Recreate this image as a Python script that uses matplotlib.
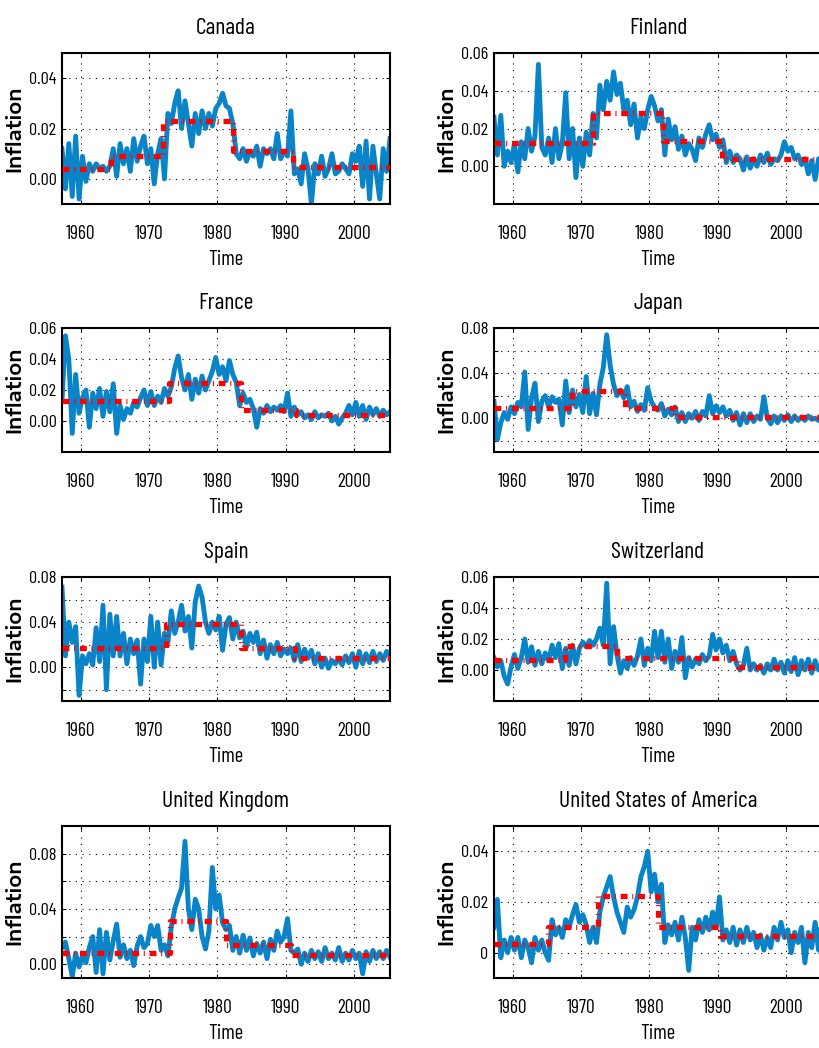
import numpy as np
import matplotlib
matplotlib.use("Agg")
import matplotlib.pyplot as plt
from matplotlib import font_manager

# semi-annual inflation, first reading at 1957.25
canada = [0.012, -0.004, 0.014, -0.007, 0.017, -0.008, 0.009, -0.001, 0.006, 0.003,
          0.006, 0.004, 0.005, 0.003, 0.005, 0.012, 0.001, 0.014, 0.006, 0.012,
          0.003, 0.016, 0.007, 0.013, 0.017, 0.006, 0.012, -0.002, 0.010, 0.016,
          0.000, 0.026, 0.022, 0.030, 0.035, 0.020, 0.031, 0.022, 0.013, 0.026,
          0.018, 0.027, 0.020, 0.026, 0.021, 0.028, 0.030, 0.034, 0.029, 0.028,
          0.022, 0.010, 0.008, 0.012, 0.007, 0.011, 0.009, 0.013, 0.005, 0.012,
          0.010, 0.012, 0.008, 0.018, 0.008, 0.011, 0.009, 0.027, 0.002, 0.004,
          -0.002, 0.010, 0.004, -0.010, 0.006, 0.002, 0.009, 0.001, 0.004, 0.010,
          0.002, 0.003, 0.006, 0.004, 0.002, 0.010, 0.007, 0.013, -0.003, 0.015,
          -0.008, 0.013, 0.002, -0.008, 0.012, 0.003, 0.016]
finland = [0.026, 0.006, 0.027, 0.000, 0.008, 0.002, 0.012, -0.003, 0.013, 0.004,
           0.020, 0.008, 0.016, 0.054, 0.010, 0.006, 0.015, 0.002, 0.020, 0.004,
           0.012, 0.039, 0.004, 0.020, -0.006, 0.015, 0.000, 0.018, 0.006, 0.028,
           0.015, 0.043, 0.030, 0.045, 0.035, 0.050, 0.038, 0.044, 0.030, 0.035,
           0.022, 0.033, 0.015, 0.026, 0.020, 0.030, 0.037, 0.032, 0.024, 0.030,
           0.006, 0.025, 0.014, 0.021, 0.009, 0.016, 0.006, 0.012, 0.009, 0.003,
           0.015, 0.010, 0.017, 0.022, 0.014, 0.017, 0.010, 0.014, 0.002, 0.008,
           0.002, 0.006, 0.004, -0.002, 0.005, -0.001, 0.004, 0.000, 0.006, 0.002,
           0.007, 0.001, 0.004, 0.003, 0.006, 0.013, 0.008, 0.010, 0.004, 0.006,
           0.001, 0.004, -0.004, 0.003, -0.007, 0.004, -0.004]
france = [0.013, 0.055, 0.040, -0.008, 0.030, 0.005, 0.015, 0.020, -0.004, 0.018,
          0.008, 0.021, 0.003, 0.019, 0.006, 0.024, -0.008, 0.010, 0.001, 0.008,
          0.005, 0.012, 0.009, 0.015, 0.020, 0.010, 0.019, 0.010, 0.016, 0.012,
          0.021, 0.016, 0.022, 0.034, 0.042, 0.028, 0.020, 0.030, 0.014, 0.027,
          0.018, 0.029, 0.020, 0.026, 0.032, 0.041, 0.030, 0.035, 0.026, 0.039,
          0.030, 0.025, 0.010, 0.018, 0.012, 0.014, 0.008, -0.004, 0.008, 0.005,
          0.010, 0.006, 0.009, 0.007, 0.010, 0.006, 0.018, 0.003, 0.009, 0.004,
          0.006, 0.002, 0.004, 0.001, 0.006, 0.002, 0.004, 0.003, 0.005, 0.000,
          0.003, -0.002, 0.002, 0.005, 0.010, 0.004, 0.012, 0.003, 0.010, 0.001,
          0.009, 0.004, 0.008, 0.003, 0.007, 0.004, 0.006]
japan = [0.015, -0.019, -0.004, 0.005, -0.001, 0.010, 0.004, 0.014, 0.010, 0.041,
         -0.010, 0.018, 0.031, -0.003, 0.015, 0.020, 0.010, 0.019, 0.014, 0.017,
         -0.006, 0.033, 0.005, 0.025, 0.010, 0.021, 0.005, 0.037, 0.004, 0.022,
         0.003, 0.030, 0.045, 0.074, 0.047, 0.030, 0.020, 0.025, 0.018, 0.028,
         0.010, 0.015, 0.006, 0.012, 0.007, 0.027, 0.015, 0.010, 0.007, 0.013,
         0.002, 0.008, 0.003, 0.010, -0.003, 0.005, -0.003, 0.004, 0.000, 0.006,
         -0.002, 0.006, 0.002, 0.020, 0.004, 0.011, 0.005, 0.010, 0.002, 0.007,
         -0.002, 0.005, -0.006, 0.004, -0.004, 0.004, -0.003, 0.002, -0.001, 0.019,
         0.000, -0.005, 0.002, -0.004, 0.002, -0.002, 0.003, -0.003, 0.002, -0.002,
         0.001, -0.002, 0.002, -0.001, 0.000, -0.002, -0.003]
spain = [0.071, 0.010, 0.040, 0.022, 0.036, -0.025, 0.010, 0.003, 0.012, 0.002,
         0.035, 0.005, 0.055, -0.020, 0.047, 0.010, 0.045, 0.010, 0.030, 0.003,
         0.025, 0.012, 0.024, -0.015, 0.025, 0.005, 0.045, 0.000, 0.040, 0.002,
         0.030, 0.022, 0.050, 0.030, 0.040, 0.055, 0.032, 0.045, 0.017, 0.058,
         0.072, 0.062, 0.040, 0.030, 0.040, 0.033, 0.045, 0.015, 0.038, 0.044,
         0.025, 0.040, 0.026, 0.032, 0.018, 0.030, 0.022, 0.031, 0.012, 0.024,
         0.008, 0.020, 0.012, 0.022, 0.010, 0.016, 0.012, 0.017, 0.006, 0.020,
         0.005, 0.016, 0.008, 0.015, 0.003, 0.012, 0.000, 0.008, -0.001, 0.006,
         0.003, 0.008, 0.002, 0.010, 0.004, 0.012, 0.000, 0.014, 0.003, 0.012,
         0.004, 0.014, 0.005, 0.012, 0.006, 0.014, 0.010]
switzerland = [0.008, 0.002, 0.006, -0.004, -0.009, 0.002, 0.010, 0.001, 0.008, 0.020,
               0.005, 0.015, 0.003, 0.012, 0.004, 0.011, 0.006, 0.016, 0.008, 0.017,
               0.001, 0.014, 0.003, 0.016, 0.004, 0.014, 0.018, 0.015, 0.019, 0.016,
               0.020, 0.027, 0.016, 0.056, 0.004, 0.028, 0.010, -0.002, 0.006, 0.001,
               0.008, 0.003, 0.009, 0.020, 0.003, 0.014, 0.006, 0.025, 0.008, 0.025,
               0.005, 0.020, 0.001, 0.012, 0.005, 0.021, -0.005, 0.008, 0.002, 0.007,
               0.004, 0.010, 0.006, 0.009, 0.023, 0.013, 0.020, 0.011, 0.016, 0.006,
               0.012, 0.004, 0.000, 0.003, 0.014, 0.000, 0.004, 0.000, 0.003, -0.002,
               0.004, 0.000, 0.007, 0.000, 0.005, -0.002, 0.006, -0.001, 0.008, -0.003,
               0.006, 0.000, 0.007, -0.002, 0.006, 0.000, 0.004]
uk = [0.012, 0.016, 0.004, -0.009, 0.008, -0.002, 0.006, 0.001, 0.012, 0.020,
      -0.006, 0.025, -0.007, 0.023, 0.003, 0.017, 0.029, 0.005, 0.014, 0.004,
      0.010, -0.001, 0.013, 0.020, 0.012, 0.015, 0.028, 0.020, 0.028, 0.010,
      0.014, 0.006, 0.027, 0.040, 0.048, 0.055, 0.089, 0.040, 0.025, 0.047,
      0.040, 0.020, 0.011, 0.024, 0.070, 0.040, 0.050, 0.030, 0.025, 0.028,
      0.010, 0.020, 0.008, 0.021, 0.010, 0.019, 0.006, 0.015, 0.008, 0.016,
      0.004, 0.018, 0.010, 0.024, 0.016, 0.020, 0.033, 0.010, 0.008, 0.011,
      0.000, 0.008, 0.002, 0.010, 0.004, 0.009, 0.002, 0.012, 0.004, 0.008,
      0.003, 0.012, 0.002, 0.008, 0.003, 0.010, 0.004, 0.008, -0.007, 0.009,
      0.002, 0.010, 0.004, 0.009, 0.004, 0.010, 0.005]
usa = [0.010, 0.021, -0.002, 0.005, 0.000, 0.006, 0.001, 0.006, -0.002, 0.005,
       0.002, -0.004, 0.006, 0.001, 0.005, 0.000, -0.003, 0.013, 0.007, 0.010,
       0.006, 0.013, 0.010, 0.015, 0.019, 0.012, 0.015, 0.011, 0.004, 0.010,
       0.004, 0.016, 0.022, 0.026, 0.030, 0.022, 0.016, 0.012, 0.008, 0.018,
       0.014, 0.017, 0.022, 0.030, 0.034, 0.040, 0.024, 0.031, 0.020, 0.027,
       0.004, 0.011, 0.007, 0.012, 0.005, 0.014, 0.006, -0.007, 0.010, 0.005,
       0.013, 0.008, 0.014, 0.009, 0.016, 0.010, 0.022, 0.005, 0.009, 0.004,
       0.010, 0.003, 0.009, 0.004, 0.010, 0.005, 0.008, 0.002, 0.007, 0.001,
       0.006, 0.002, 0.010, 0.005, 0.012, 0.006, 0.009, 0.000, 0.008, 0.004,
       0.010, -0.004, 0.008, 0.002, 0.012, 0.001, 0.020]

# regime breaks (years) and the mean inflation in each regime
canadaBreaks = [1957.25, 1964.4, 1972.0, 1982.3, 1991.0, 2005.25]
canadaMeans = [0.004, 0.009, 0.023, 0.011, 0.0047]
finlandBreaks = [1957.25, 1971.8, 1982.0, 1990.6, 2005.25]
finlandMeans = [0.0121, 0.0284, 0.0135, 0.0036]
franceBreaks = [1957.25, 1972.9, 1983.4, 1991.5, 2005.25]
franceMeans = [0.0128, 0.0247, 0.007, 0.0037]
japanBreaks = [1957.25, 1968.7, 1976.4, 1983.8, 2005.25]
japanMeans = [0.0094, 0.024, 0.0088, 0.0012]
spainBreaks = [1957.25, 1972.5, 1983.5, 1991.4, 2005.25]
spainMeans = [0.0166, 0.038, 0.0166, 0.008]
switzerlandBreaks = [1957.25, 1967.6, 1975.2, 1993.0, 2005.25]
switzerlandMeans = [0.0065, 0.0157, 0.0078, 0.0022]
ukBreaks = [1957.25, 1973.0, 1981.3, 1990.7, 2005.25]
ukMeans = [0.0081, 0.0316, 0.0137, 0.0069]
usaBreaks = [1957.25, 1965.2, 1972.5, 1981.2, 1990.3, 2005.25]
usaMeans = [0.0036, 0.0101, 0.0224, 0.0101, 0.0066]

countries = ["Canada", "Finland", "France", "Japan", "Spain", "Switzerland",
             "United Kingdom", "United States of America"]
series = [canada, finland, france, japan, spain, switzerland, uk, usa]
breaks = [canadaBreaks, finlandBreaks, franceBreaks, japanBreaks, spainBreaks,
          switzerlandBreaks, ukBreaks, usaBreaks]
means = [canadaMeans, finlandMeans, franceMeans, japanMeans, spainMeans,
         switzerlandMeans, ukMeans, usaMeans]

yLimits = [(-0.01, 0.05), (-0.02, 0.06), (-0.02, 0.06), (-0.03, 0.08),
           (-0.03, 0.08), (-0.02, 0.06), (-0.01, 0.10), (-0.01, 0.05)]
yTicks = [[0, 0.02, 0.04], [0, 0.02, 0.04, 0.06], [0, 0.02, 0.04, 0.06],
          [-0.02, 0, 0.02, 0.04, 0.06, 0.08], [-0.02, 0, 0.02, 0.04, 0.06, 0.08],
          [0, 0.02, 0.04, 0.06], [0, 0.02, 0.04, 0.06, 0.08], [0, 0.02, 0.04]]
yTickLabels = [["0.00", "0.02", "0.04"], ["0.00", "0.02", "0.04", "0.06"],
               ["0.00", "0.02", "0.04", "0.06"], ["", "0.00", "", "0.04", "", "0.08"],
               ["", "0.00", "", "0.04", "", "0.08"], ["0.00", "0.02", "0.04", "0.06"],
               ["0.00", "", "0.04", "", "0.08"], ["0", "0.02", "0.04"]]
xTicks = [1960, 1970, 1980, 1990, 2000]

# narrow face for titles/ticks, wide face for the rotated y label
fontNames = {f.name for f in font_manager.fontManager.ttflist}
narrow = next((n for n in ["Barlow Condensed", "Roboto Condensed", "Archivo Narrow"] if n in fontNames),
              "Liberation Sans")
wide = "Encode Sans Expanded" if "Encode Sans Expanded" in fontNames else "DejaVu Sans"

fig = plt.figure(figsize=(8.2, 10.48), dpi=100)
rowBottom = [0.8053, 0.5687, 0.3311, 0.0668]
rowHeight = [0.1441, 0.1183, 0.1183, 0.1450]
colLeft = [0.0756, 0.6024]

for i, name in enumerate(countries):
    r, c = divmod(i, 2)
    ax = fig.add_axes([colLeft[c], rowBottom[r], 0.4, rowHeight[r]])

    vals = np.array(series[i])
    t = 1957.25 + 0.5 * np.arange(len(vals))
    ax.plot(t, vals, color="#0a84c8", lw=3.5, solid_joinstyle="round", zorder=2)

    # step line for regime means
    b = np.array(breaks[i])
    m = np.array(means[i])
    ax.plot(np.repeat(b, 2)[1:-1], np.repeat(m, 2), color="red", lw=3.8,
            dashes=(1.3, 0.9, 0.2, 0.9), zorder=3)

    ax.set_xlim(1957.25, 2005.25)
    ax.set_ylim(yLimits[i])
    ax.set_xticks(xTicks)
    ax.set_yticks(yTicks[i])
    ax.set_yticklabels(yTickLabels[i])
    ax.grid(True, color="black", linestyle=(0, (1, 5)), linewidth=0.8)
    ax.tick_params(direction="in", length=3, top=True, right=True, labelsize=14)
    ax.tick_params(axis="x", pad=15)
    ax.tick_params(axis="y", pad=4, labelsize=13)
    for lab in ax.get_xticklabels() + ax.get_yticklabels():
        lab.set_family(narrow)
    for sp in ax.spines.values():
        sp.set_linewidth(1.5)

    ax.set_title(name, fontsize=17, family=narrow, pad=14)
    ax.set_xlabel("Time", fontsize=15, family=narrow, labelpad=5)
    ax.set_ylabel("Inflation", fontsize=14, family=wide, fontweight="semibold")
    ax.yaxis.set_label_coords(-0.115, 0.5)

fig.savefig("out.png", dpi=100)
